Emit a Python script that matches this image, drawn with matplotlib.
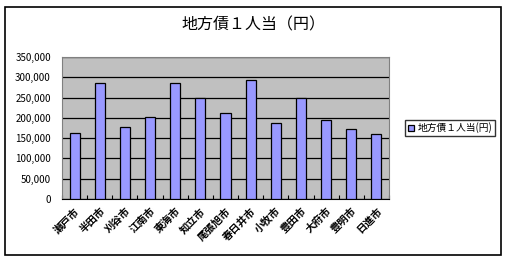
import matplotlib as mpl
import matplotlib.pyplot as plt
import numpy as np

plt.rcParams['font.family'] = ['Noto Sans CJK JP', 'DejaVu Sans']

cities = ["瀬戸市", "半田市", "刈谷市", "江南市", "東海市", "知立市", "尾張旭市",
          "春日井市", "小牧市", "豊田市", "大府市", "豊明市", "日進市"]
debt = [162000, 286000, 177500, 202000, 286000, 248000, 212000,
        292500, 187000, 248000, 194500, 172500, 160000]
title = "地方債１人当（円）"
series_name = "地方債１人当(円)"
yticks = [0, 50000, 100000, 150000, 200000, 250000, 300000, 350000]

fig = plt.figure(figsize=(5.07, 2.60), dpi=100)
# outer frame
fig.patches.append(mpl.patches.Rectangle((5/507, 5/260), 496/507, 248/260,
                                         transform=fig.transFigure, fill=False,
                                         edgecolor="black", linewidth=1.2))
ax = fig.add_axes([62/507, 1-199/260, 327/507, 142/260])
x = np.arange(len(cities))
ax.set_facecolor("#C0C0C0")
ax.set_axisbelow(True)
ax.yaxis.grid(True, color="black", linewidth=0.9)
bars = ax.bar(x, debt, width=0.4, color="#9999FF", edgecolor="black", linewidth=0.9,
              zorder=3)
ax.set_xlim(-0.5, len(cities)-0.5)
ax.set_ylim(0, 350000)
ax.set_yticks(yticks)
ax.set_yticklabels([f"{v:,}" for v in yticks], fontsize=7)
ax.set_xticks(x)
ax.set_xticklabels(cities, rotation=45, ha="right", rotation_mode="anchor",
                   fontsize=7.5, fontweight="bold")
ax.set_xticks(np.arange(len(cities)+1) - 0.5, minor=True)
ax.tick_params(axis="y", length=0, pad=8)
ax.tick_params(axis="x", which="major", length=0, pad=5)
ax.tick_params(axis="x", which="minor", direction="in", length=3, width=0.8)
for s in ["left", "top", "right"]:
    ax.spines[s].set_color("#808080")
ax.spines["bottom"].set_color("black")
fig.text(0.5, 1-25/260, title, ha="center", va="center", fontsize=11.5)
leg = ax.legend([bars], [series_name], loc="center left",
                bbox_to_anchor=(400/507, 1-128/260),
                bbox_transform=fig.transFigure, fontsize=7, frameon=True,
                fancybox=False, edgecolor="black", borderpad=0.3,
                handlelength=0.6, handleheight=0.6, handletextpad=0.4)
leg.get_frame().set_linewidth(1.0)
fig.savefig("out.png", dpi=100)
